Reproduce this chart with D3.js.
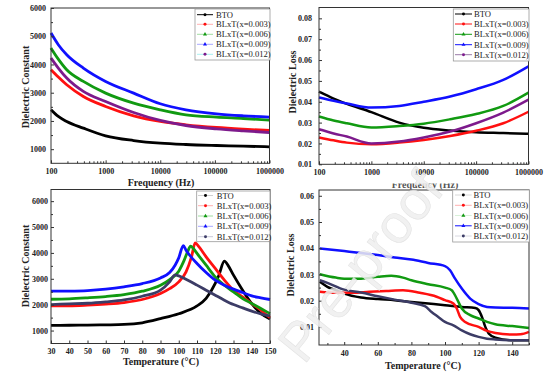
<!DOCTYPE html>
<html><head><meta charset="utf-8">
<script src="https://cdn.jsdelivr.net/npm/d3@7"></script>
<style>body{margin:0;background:#fff}svg{display:block}</style>
</head><body><svg id="c" width="554" height="383"></svg>
<script>
// ---------- DATA ----------
const seriesNames = ["BTO","BLxT(x=0.003)","BLxT(x=0.006)","BLxT(x=0.009)","BLxT(x=0.012)"];
// Panel (a): dielectric constant vs frequency
const freqA = [100,136,194,391,1000,3260,10000,29500,107000,331000,1000000];
const epsF_BTO = [2395,2158,1981,1745,1473,1307,1213,1165,1130,1106,1083];
const epsF_003 = [3813,3553,3281,2868,2513,2182,1981,1863,1768,1709,1662];
const epsF_006 = [4580,4190,3813,3400,2986,2631,2395,2217,2135,2087,2030];
const epsF_009 = [5113,4700,4345,3872,3400,2986,2608,2395,2253,2182,2135];
const epsF_012 = [4227,3872,3518,3045,2690,2300,2017,1839,1721,1650,1591];
// Panel (b): dielectric loss vs frequency
const freqB = [100,190,340,1000,3400,10000,32000,100000,330000,1000000];
const lossF_BTO = [0.0448,0.0415,0.0390,0.0350,0.0300,0.0275,0.0262,0.0254,0.0250,0.0246];
const lossF_003 = [0.0229,0.0215,0.0204,0.0196,0.0204,0.0217,0.0236,0.0261,0.0297,0.0352];
const lossF_006 = [0.0329,0.0310,0.0297,0.0277,0.0284,0.0295,0.0316,0.0341,0.0380,0.0444];
const lossF_009 = [0.0421,0.0405,0.0392,0.0372,0.0380,0.0400,0.0425,0.0460,0.0505,0.0570];
const lossF_012 = [0.0268,0.0248,0.0233,0.0200,0.0209,0.0229,0.0257,0.0297,0.0348,0.0410];
// Panel (c): dielectric constant vs temperature
const tC_BTO = [30,40,50,60,70,80,90,100,110,115,120,122,125,127,130,135,140,145,150];
const epsT_BTO = [1200,1205,1210,1220,1235,1300,1460,1650,1950,2240,2820,3140,3680,3520,3140,2560,2040,1660,1450];
const tC_003 = [30,40,50,60,70,80,90,95,100,104,107,109,111,115,120,125,130,135,140,145,150];
const epsT_003 = [1955,1955,1980,2020,2080,2200,2430,2620,2880,3270,3850,4390,4240,3850,3400,2950,2560,2300,2045,1785,1490];
const tC_006 = [30,40,50,60,70,80,90,95,100,103,105,106.5,108,110,115,120,125,130,135,140,145,150];
const epsT_006 = [2210,2225,2265,2315,2390,2520,2750,2970,3295,3720,4070,4260,4170,3980,3525,3075,2750,2495,2240,2045,1850,1655];
const tC_009 = [30,40,50,60,70,80,90,95,98,100,102.5,104,106,110,115,120,125,130,135,140,145,150];
const epsT_009 = [2520,2525,2545,2600,2690,2815,3035,3240,3525,3810,4280,4105,3910,3590,3240,2945,2755,2600,2470,2340,2265,2200];
const tC_012 = [30,40,50,60,70,80,90,95,98,100,105,110,115,120,125,130,135,140,145,150];
const epsT_012 = [2005,2030,2055,2110,2185,2325,2560,2880,3150,3115,2945,2755,2560,2365,2175,2005,1875,1750,1645,1565];
// Panel (d): dielectric loss vs temperature
const tD_BTO = [25.5,30,35,40,50,60,70,80,90,100,110,118,120,122,124,126,130,140,150];
const lossT_BTO = [0.0272,0.0253,0.0240,0.0227,0.0212,0.0206,0.0202,0.0195,0.0189,0.0183,0.0176,0.0172,0.0164,0.0138,0.0100,0.0075,0.0059,0.0049,0.0049];
const tD_003 = [25.5,35,45,55,65,75,85,95,100,105,107,109,112,120,125,130,140,145,150];
const lossT_003 = [0.0234,0.0230,0.0230,0.0234,0.0237,0.0240,0.0230,0.0215,0.0202,0.0189,0.0170,0.0138,0.0119,0.0100,0.0085,0.0077,0.0071,0.0072,0.0081];
const tD_006 = [25.5,35,40,50,60,68,75,80,90,100,104,107,110,115,120,125,130,140,150];
const lossT_006 = [0.0301,0.0288,0.0284,0.0284,0.0291,0.0295,0.0288,0.0278,0.0263,0.0250,0.0240,0.0208,0.0170,0.0145,0.0132,0.0119,0.0110,0.0103,0.0096];
const tD_009 = [25.5,40,50,60,70,80,90,100,103,106,110,115,120,125,130,140,150];
const lossT_009 = [0.0399,0.0389,0.0382,0.0374,0.0365,0.0357,0.0344,0.0332,0.0316,0.0284,0.0246,0.0208,0.0187,0.0176,0.0174,0.0173,0.0170];
const tD_012 = [25.5,30,40,50,60,70,80,88,92,96,100,105,110,115,120,125,130,140,150];
const lossT_012 = [0.0278,0.0268,0.0242,0.0231,0.0217,0.0204,0.0192,0.0179,0.0157,0.0138,0.0119,0.0106,0.0087,0.0072,0.0062,0.0055,0.0052,0.0049,0.0049];
// Tick labels
const freqTicks = [100,1000,10000,100000,1000000];
const epsTicks = [1000,2000,3000,4000,5000,6000];
const lossTicksB = [0.01,0.02,0.03,0.04,0.05,0.06,0.07,0.08];
const tempTicksC = [30,40,50,60,70,80,90,100,110,120,130,140,150];
const tempTicksD = [40,60,80,100,120,140];
const lossTicksD = [0.01,0.02,0.03,0.04,0.05,0.06];

// ---------- DRAW ----------
const svg = d3.select("#c");
const serif = "'Liberation Serif','Times New Roman',serif";
const cBlack="#000", cRed="#ff1010", cGreen="#119a11", cBlue="#1010ff", cPurple="#7d1a8c", cSlate="#3c3c66";

function panel(cfg){
  const g = svg.append("g");
  const x = (cfg.log ? d3.scaleLog() : d3.scaleLinear()).domain(cfg.xd).range([cfg.l, cfg.r]);
  const y = d3.scaleLinear().domain(cfg.yd).range([cfg.b, cfg.t]);
  const line = d3.line().x(d=>x(d[0])).y(d=>y(d[1])).curve(d3.curveMonotoneX);
  cfg.series.forEach(s=>{
    g.append("path").attr("d", line(s.xs.map((v,i)=>[v,s.ys[i]])))
      .attr("fill","none").attr("stroke",s.c).attr("stroke-width",cfg.lw).attr("stroke-linejoin","round");
  });
  g.append("rect").attr("x",cfg.l).attr("y",cfg.t).attr("width",cfg.r-cfg.l).attr("height",cfg.b-cfg.t)
    .attr("fill","none").attr("stroke","#333").attr("stroke-width",1);
  const xa = d3.axisBottom(x).tickValues(cfg.xt).tickSizeInner(-3).tickSizeOuter(0).tickPadding(5)
    .tickFormat(cfg.xf);
  const gx = g.append("g").attr("transform",`translate(0,${cfg.b})`).call(xa);
  gx.select(".domain").remove();
  gx.selectAll("text").attr("font-family",serif).attr("font-weight","bold").attr("font-size",8).attr("fill","#222");
  gx.selectAll("line").attr("stroke","#333");
  if (cfg.xminor){
    const gm = g.append("g").attr("transform",`translate(0,${cfg.b})`)
      .call(d3.axisBottom(x).tickValues(cfg.xminor).tickSizeInner(-2).tickSizeOuter(0).tickFormat(""));
    gm.select(".domain").remove(); gm.selectAll("line").attr("stroke","#333");
  }
  const ya = d3.axisLeft(y).tickValues(cfg.yt).tickSizeInner(-3).tickSizeOuter(0).tickPadding(cfg.ypad)
    .tickFormat(cfg.yf);
  const gy = g.append("g").attr("transform",`translate(${cfg.l},0)`).call(ya);
  gy.select(".domain").remove();
  gy.selectAll("text").attr("font-family",serif).attr("font-weight","bold").attr("font-size",8).attr("fill","#222");
  gy.selectAll("line").attr("stroke","#333");
  if (cfg.yminor){
    const gm = g.append("g").attr("transform",`translate(${cfg.l},0)`)
      .call(d3.axisLeft(y).tickValues(cfg.yminor).tickSizeInner(-2).tickSizeOuter(0).tickFormat(""));
    gm.select(".domain").remove(); gm.selectAll("line").attr("stroke","#333");
  }
  const xt = g.append("text").attr("x",cfg.xtx).attr("y",cfg.xty).attr("text-anchor","middle")
    .attr("font-family",serif).attr("font-weight","bold").attr("font-size",10).attr("fill","#222").text(cfg.xtitle);
  if (cfg.xclip) xt.attr("clip-path",cfg.xclip).attr("fill","#555");
  g.append("text").attr("transform",`translate(${cfg.ytx},${cfg.yty}) rotate(-90)`)
    .attr("text-anchor","middle").attr("dominant-baseline","central")
    .attr("font-family",serif).attr("font-weight","bold").attr("font-size",10).attr("fill","#222").text(cfg.ytitle);
  const L = cfg.leg;
  g.append("rect").attr("x",L.x0).attr("y",L.y0).attr("width",L.x1-L.x0).attr("height",L.y1-L.y0)
    .attr("fill","#fff").attr("stroke","#999").attr("stroke-width",0.8);
  cfg.series.forEach((s,i)=>{
    const yy = L.rows[i];
    g.append("line").attr("x1",L.lx0).attr("x2",L.lx1).attr("y1",yy).attr("y2",yy)
      .attr("stroke",L.lineCols[i]).attr("stroke-width",1);
    g.append("path").attr("transform",`translate(${(L.lx0+L.lx1)/2},${yy})`)
      .attr("d", d3.symbol().type(L.sym[i]).size(7)()).attr("fill",s.c);
    g.append("text").attr("x",L.tx).attr("y",yy).attr("dominant-baseline","central")
      .attr("font-family",serif).attr("font-size",8.6).attr("fill","#222").text(seriesNames[i]);
  });
}

const minorLog = [];
for (let e=2;e<6;e++) for (let m=2;m<10;m++) minorLog.push(m*Math.pow(10,e));
const fmtInt = d3.format("d");
const fmtLoss = d3.format(".2f");
const symBase = [d3.symbolCircle,d3.symbolCircle,d3.symbolTriangle,d3.symbolTriangle,d3.symbolCircle];

svg.append("defs").append("clipPath").attr("id","clipB").append("rect")
  .attr("x",300).attr("y",183.5).attr("width",250).attr("height",6);

panel({l:51,r:269.5,t:8,b:163.3,log:true,xd:[100,1e6],yd:[500,6000],lw:2.8,
  xt:freqTicks,xf:fmtInt,xminor:minorLog,yt:epsTicks,yf:fmtInt,yminor:[1500,2500,3500,4500,5500],ypad:5,
  xtitle:"Frequency (Hz)",xtx:161,xty:185.5,ytitle:"Dielectric Constant",ytx:25,yty:87,
  series:[{xs:freqA,ys:epsF_BTO,c:cBlack},{xs:freqA,ys:epsF_003,c:cRed},{xs:freqA,ys:epsF_006,c:cGreen},
          {xs:freqA,ys:epsF_009,c:cBlue},{xs:freqA,ys:epsF_012,c:cPurple}],
  leg:{x0:195,x1:270,y0:9,y1:60,rows:[14.7,24.3,34.3,44.3,54.3],lx0:197,lx1:213,tx:216,
       lineCols:["#000","#ffb0b0","#a0dca0","#a8a8ff","#a8f0f0"],sym:symBase}});

panel({l:319,r:528.5,t:7.5,b:164.3,log:true,xd:[100,1e6],yd:[0.01,0.0852],lw:2.5,
  xt:freqTicks,xf:fmtInt,xminor:minorLog,yt:lossTicksB,yf:fmtLoss,
  yminor:[0.015,0.025,0.035,0.045,0.055,0.065,0.075],ypad:7,
  xtitle:"Frequency (Hz)",xtx:425,xty:188,xclip:"url(#clipB)",ytitle:"Dielectric Loss",ytx:292,yty:82,
  series:[{xs:freqB,ys:lossF_BTO,c:cBlack},{xs:freqB,ys:lossF_003,c:cRed},{xs:freqB,ys:lossF_006,c:cGreen},
          {xs:freqB,ys:lossF_009,c:cBlue},{xs:freqB,ys:lossF_012,c:cPurple}],
  leg:{x0:453.3,x1:529,y0:9,y1:61,rows:[14,24,34.3,44.7,54.7],lx0:455,lx1:472,tx:474,
       lineCols:["#000",cRed,cGreen,cBlue,"#9a7aa8"],sym:symBase}});

panel({l:51,r:270,t:189.5,b:343.5,log:false,xd:[30,150],yd:[500,6450],lw:2.8,
  xt:tempTicksC,xf:fmtInt,yt:epsTicks,yf:fmtInt,yminor:[1500,2500,3500,4500,5500],ypad:3,
  xtitle:"Temperature (\u00B0C)",xtx:161,xty:365,ytitle:"Dielectric Constant",ytx:25,yty:266,
  series:[{xs:tC_BTO,ys:epsT_BTO,c:cBlack},{xs:tC_003,ys:epsT_003,c:cRed},{xs:tC_006,ys:epsT_006,c:cGreen},
          {xs:tC_009,ys:epsT_009,c:cBlue},{xs:tC_012,ys:epsT_012,c:cSlate}],
  leg:{x0:196.7,x1:270,y0:191,y1:241.7,rows:[195.5,205.7,216,226.3,236.7],lx0:198,lx1:213,tx:216.7,
       lineCols:["#d0d0d0","#ffb0b0","#a0dca0","#a8a8ff","#c8c8d8"],sym:symBase}});

panel({l:319,r:529,t:190,b:345,log:false,xd:[25,150],yd:[0.0031,0.0622],lw:2.5,
  xt:tempTicksD,xf:fmtInt,xminor:[30,50,70,90,110,130,150],yt:lossTicksD,yf:fmtLoss,
  yminor:[0.015,0.025,0.035,0.045,0.055],ypad:5,
  xtitle:"Temperature (\u00B0C)",xtx:423,xty:368.5,ytitle:"Dielectric Loss",ytx:290,yty:265,
  series:[{xs:tD_BTO,ys:lossT_BTO,c:cBlack},{xs:tD_003,ys:lossT_003,c:cRed},{xs:tD_006,ys:lossT_006,c:cGreen},
          {xs:tD_009,ys:lossT_009,c:cBlue},{xs:tD_012,ys:lossT_012,c:cSlate}],
  leg:{x0:452.7,x1:529.3,y0:190,y1:242,rows:[195,205.3,215.5,225.8,236],lx0:455,lx1:471.7,tx:473.5,
       lineCols:["#d8d8d8","#ffb0b0","#d8f0d8",cBlue,"#d8d8e0"],sym:symBase}});

// watermark
svg.append("text").attr("transform","translate(360,266) rotate(-51)")
  .attr("text-anchor","middle").attr("dominant-baseline","central")
  .attr("font-family","'Liberation Sans',Arial,sans-serif").attr("font-size",54)
  .attr("fill","#eeeeee").attr("fill-opacity",0.85).attr("stroke","#e2e2e2").attr("stroke-width",0.5)
  .text("Pre-proof");
</script></body></html>
